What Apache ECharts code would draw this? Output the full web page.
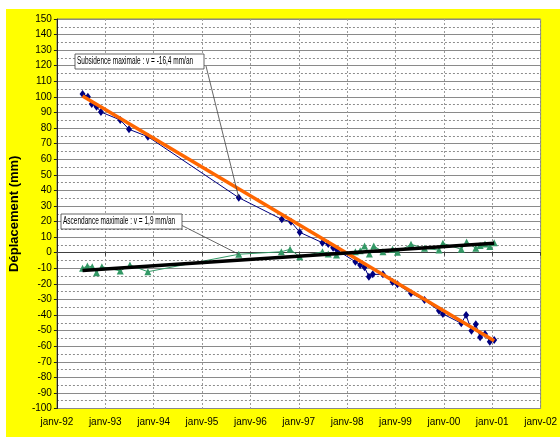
<!DOCTYPE html>
<html>
<head>
<meta charset="utf-8">
<script src="https://cdn.jsdelivr.net/npm/echarts@6/dist/echarts.min.js"></script>
<style>
html,body{margin:0;padding:0;background:#fff;}
#c{width:560px;height:437px;}
</style>
</head>
<body>
<div id="c"></div>
<script>
// Subsidence points (blue diamonds)
const subsYear = [1992.53,1992.64,1992.72,1992.82,1992.91,1993.31,1993.49,1993.88,1995.76,1996.65,1996.84,1997.02,1997.49,1997.61,1997.71,1997.79,1998.17,1998.27,1998.36,1998.45,1998.53,1998.74,1998.94,1999.04,1999.32,1999.60,1999.90,1999.98,2000.36,2000.46,2000.57,2000.66,2000.75,2000.85,2000.95,2001.04];
const subsVal = [101.9,100.1,95.4,93.7,90.3,85.2,79.2,74.5,35.3,21.4,19.9,13.1,6.4,5.6,3.2,1.7,-5.8,-7.9,-9.4,-15.4,-13.9,-13.9,-18.8,-20.3,-26.1,-30.4,-37.2,-39.3,-45.3,-40.0,-50.1,-46.0,-54.3,-52.2,-57.1,-56.0];
// Ascendance points (green triangles)
const ascYear = [1992.53,1992.63,1992.73,1992.82,1992.93,1993.31,1993.51,1993.88,1995.76,1996.64,1996.82,1997.02,1997.49,1997.61,1997.78,1998.17,1998.27,1998.36,1998.46,1998.55,1998.74,1998.94,1999.04,1999.32,1999.60,1999.90,1999.98,2000.36,2000.47,2000.66,2000.75,2000.85,2000.95,2001.04];
const ascVal = [-10.0,-8.5,-9.0,-12.8,-9.0,-11.7,-7.9,-12.2,-1.0,0.6,2.2,-2.6,0.6,-0.8,-1.5,0.6,1.3,4.3,-0.8,4.3,0.6,2.2,0.3,5.4,2.8,1.7,6.0,2.2,6.9,2.8,4.7,5.6,3.9,6.4];
// Linear trends (endpoints)
const subsTrendYear = [1992.53, 2001.04];
const subsTrendVal = [100.6, -56.5];
const ascTrendYear = [1992.53, 2001.04];
const ascTrendVal = [-11.5, 6.0];
// Axis
const xMin = 1992, xMax = 2002;
const yMin = -100, yMax = 150;
const yAxisTitle = 'Déplacement (mm)';
const noteSubs = 'Subsidence maximale : v = -16,4 mm/an';
const noteAsc = 'Ascendance maximale : v = 1,9 mm/an';

const zip = (a, b) => a.map((v, i) => [v, b[i]]);
const FONT = '"Liberation Sans Narrow", "Liberation Sans", Arial, sans-serif';

const chart = echarts.init(document.getElementById('c'), null, {renderer: 'canvas'});
chart.setOption({
  animation: false,
  backgroundColor: '#ffffff',
  grid: {left: 42, top: 19, width: 506, height: 389.5, show: true, backgroundColor: '#ffffff', borderColor: '#808080', borderWidth: 1, containLabel: false},
  xAxis: {
    type: 'value', min: xMin, max: xMax, interval: 1,
    axisLine: {show: true, lineStyle: {color: '#404040', width: 1}},
    axisTick: {show: true, length: 3, lineStyle: {color: '#404040'}},
    axisLabel: {color: '#000', fontFamily: FONT, fontSize: 10, margin: 9,
      formatter: v => 'janv-' + String(Math.round(v) % 100).padStart(2, '0')},
    splitLine: {show: true, lineStyle: {color: '#9a9a9a', type: [2, 2], width: 1}}
  },
  yAxis: {
    type: 'value', min: yMin, max: yMax, interval: 10,
    name: yAxisTitle, nameLocation: 'middle', nameGap: 27,
    nameTextStyle: {fontFamily: '"Liberation Sans", Arial, sans-serif', fontWeight: 'bold', fontSize: 13, color: '#000'},
    axisLine: {show: true, lineStyle: {color: '#202020', width: 1}},
    axisTick: {show: true, length: 3, lineStyle: {color: '#202020'}},
    axisLabel: {color: '#000', fontFamily: FONT, fontSize: 10, margin: 5},
    splitLine: {show: true, lineStyle: {color: '#8a8a8a', width: 1}},
    minorTick: {show: false, splitNumber: 2},
    minorSplitLine: {show: true, lineStyle: {color: '#8c8c8c', type: [2, 2], width: 1}}
  },
  series: [
    {type: 'line', name: 'subs', data: zip(subsYear, subsVal), symbol: 'diamond', symbolSize: [6, 8],
      lineStyle: {color: '#000080', width: 1}, itemStyle: {color: '#000080'}, z: 3},
    {type: 'line', name: 'asc', data: zip(ascYear, ascVal), symbol: 'triangle', symbolSize: [7, 7],
      lineStyle: {color: '#339966', width: 1}, itemStyle: {color: '#339966'}, z: 3},
    {type: 'line', name: 'subsTrend', data: zip(subsTrendYear, subsTrendVal), symbol: 'none',
      lineStyle: {color: '#FF6600', width: 3.5}, z: 4},
    {type: 'line', name: 'ascTrend', data: zip(ascTrendYear, ascTrendVal), symbol: 'none',
      lineStyle: {color: '#000000', width: 3.5}, z: 4}
  ]
});

// annotations with leader lines to the data
const pSubs = chart.convertToPixel({gridIndex: 0}, [subsYear[8], subsVal[8]]);
const pAsc = chart.convertToPixel({gridIndex: 0}, [ascYear[8], ascVal[8]]);
chart.setOption({
  graphic: [
    {type: 'rect', z: -10, silent: true, shape: {x: 6, y: 9, width: 554, height: 428}, style: {fill: '#ffff00'}},
    {type: 'line', z: 10, shape: {x1: 206, y1: 66, x2: pSubs[0], y2: pSubs[1]}, style: {stroke: '#404040', lineWidth: 0.8}},
    {type: 'rect', z: 11, shape: {x: 75, y: 54, width: 129, height: 15}, style: {fill: '#fff', stroke: '#404040', lineWidth: 0.8}},
    {type: 'text', z: 12, x: 77, y: 61.5, scaleX: 0.65, style: {text: noteSubs, fontFamily: '"Liberation Sans", Arial, sans-serif', fontSize: 10, fill: '#000', verticalAlign: 'middle'}},
    {type: 'line', z: 10, shape: {x1: 181, y1: 225, x2: pAsc[0], y2: pAsc[1]}, style: {stroke: '#404040', lineWidth: 0.8}},
    {type: 'rect', z: 11, shape: {x: 61, y: 214, width: 121, height: 15}, style: {fill: '#fff', stroke: '#404040', lineWidth: 0.8}},
    {type: 'text', z: 12, x: 63, y: 221.5, scaleX: 0.65, style: {text: noteAsc, fontFamily: '"Liberation Sans", Arial, sans-serif', fontSize: 10, fill: '#000', verticalAlign: 'middle'}}
  ]
});
</script>
</body>
</html>
